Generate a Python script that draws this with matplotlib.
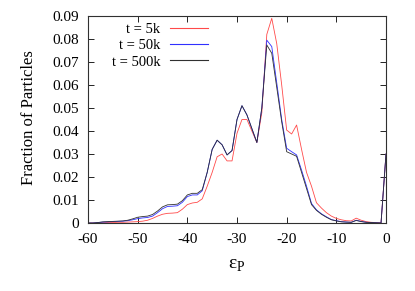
import matplotlib
matplotlib.use("Agg")
import matplotlib.pyplot as plt

plt.rcParams['font.family'] = ['Liberation Serif', 'DejaVu Serif']
plt.rcParams['mathtext.fontset'] = 'custom'
plt.rcParams['mathtext.rm'] = 'Liberation Serif'
plt.rcParams['axes.unicode_minus'] = False

x = list(range(-60, 1))

t5k = [0, 0, 0, 0.0001, 0.0002, 0.0002, 0.0003, 0.0003, 0.0004, 0.0005,
       0.0006, 0.0008, 0.0012, 0.002, 0.003, 0.0038, 0.0042, 0.0043, 0.0045, 0.006,
       0.008, 0.0087, 0.009, 0.0105, 0.016, 0.022, 0.0288, 0.030, 0.027, 0.027,
       0.039, 0.045, 0.045, 0.040, 0.035, 0.048, 0.082, 0.089, 0.078, 0.060,
       0.0404, 0.0387, 0.0426, 0.032, 0.022, 0.016, 0.0088, 0.0065, 0.0045, 0.003,
       0.002, 0.0014, 0.001, 0.0009, 0.0021, 0.0012, 0.0006, 0.0003, 0.0002, 0.0001,
       0.030]

t50k = [0, 0, 0.0002, 0.0004, 0.0005, 0.0006, 0.0007, 0.0008, 0.001, 0.0014,
        0.0019, 0.0022, 0.0024, 0.003, 0.0045, 0.0062, 0.0072, 0.0073, 0.0075, 0.009,
        0.0115, 0.0122, 0.0122, 0.014, 0.022, 0.032, 0.036, 0.034, 0.0296, 0.0315,
        0.045, 0.051, 0.047, 0.041, 0.035, 0.050, 0.0795, 0.0767, 0.061, 0.045,
        0.0325, 0.031, 0.0296, 0.023, 0.016, 0.0085, 0.0057, 0.004, 0.0027, 0.0015,
        0.001, 0.0006, 0.0004, 0.0003, 0.0012, 0.0007, 0.0003, 0.0002, 0.0001, 0,
        0.030]

t500k = [0, 0, 0.0002, 0.0005, 0.0006, 0.0007, 0.0008, 0.0009, 0.0012, 0.0018,
         0.0025, 0.0028, 0.003, 0.0037, 0.0052, 0.007, 0.0079, 0.008, 0.0082, 0.0097,
         0.0122, 0.0129, 0.0129, 0.0145, 0.022, 0.032, 0.036, 0.034, 0.0296, 0.0315,
         0.045, 0.051, 0.047, 0.041, 0.035, 0.050, 0.0774, 0.0738, 0.059, 0.044,
         0.031, 0.030, 0.029, 0.022, 0.015, 0.008, 0.0055, 0.0038, 0.0025, 0.0014,
         0.0009, 0.0005, 0.0004, 0.0003, 0.0011, 0.0006, 0.0003, 0.0002, 0.0001, 0,
         0.030]

labels = ['t = 5k', 't = 50k', 't = 500k']
colors = ['#ff4a4a', '#3030ff', '#303030']

fig = plt.figure(figsize=(4.15, 2.91), dpi=100)
ax = fig.add_axes([88/415, 1-223/291, (386-88)/415, (223-16)/291])

for ys, lab, c in zip([t5k, t50k, t500k], labels, colors):
    ax.plot(x, ys, color=c, lw=0.6, label=lab)

ax.set_xlim(-60, 0)
ax.set_ylim(0, 0.09)
ax.set_xticks(range(-60, 1, 10))
ax.set_yticks([i/100 for i in range(10)])
ax.set_yticklabels(['0'] + ['%.2f' % (i/100) for i in range(1, 10)])
ax.tick_params(direction='in', length=4, width=0.6, top=True, right=True,
               labelsize=11, colors='black')
ax.tick_params(axis='y', pad=6.5)
ax.tick_params(axis='x', pad=7)
for s in ax.spines.values():
    s.set_linewidth(0.8)
    s.set_color('#303030')

fig.text(29/415, 1-118/291, 'Fraction of Particles', rotation=90,
         ha='center', va='center', fontsize=12)
fig.text(237/415, 1-266/291, r'$\mathrm{ε}_\mathrm{P}$', ha='center',
         va='center', fontsize=14)

leg = ax.legend(loc='upper left', bbox_to_anchor=(0.05, 1.008), frameon=False,
                markerfirst=False, fontsize=10.5, handlelength=2.6,
                handletextpad=0.7, labelspacing=0.2, borderaxespad=0.2)
for h in leg.get_lines():
    h.set_linewidth(0.8)

fig.savefig('out.png', dpi=100)
